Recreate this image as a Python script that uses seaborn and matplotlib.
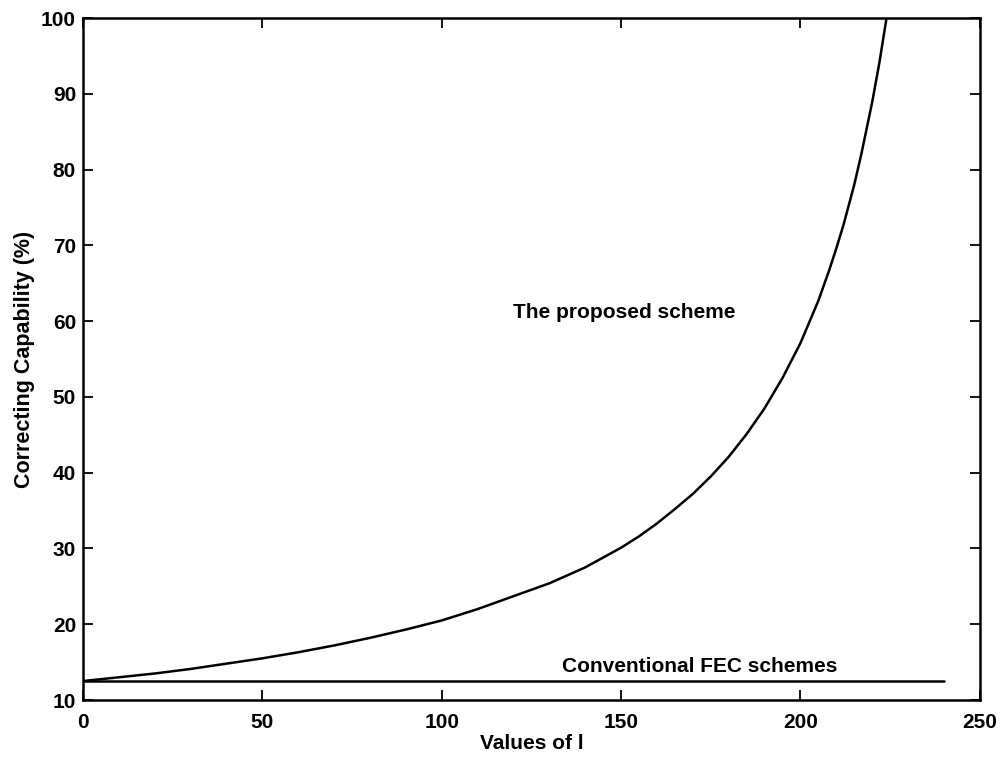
import matplotlib
matplotlib.use("Agg")
import matplotlib.pyplot as plt
import seaborn as sns
import pandas as pd

# Data
l_values = [0, 10, 20, 30, 40, 50, 60, 70, 80, 90, 100, 110, 120, 130, 140,
            150, 155, 160, 165, 170, 175, 180, 185, 190, 195, 200, 205, 208,
            210, 212, 215, 217, 220, 222, 224]
proposed = [12.5, 13.0, 13.5, 14.1, 14.8, 15.5, 16.3, 17.2, 18.2, 19.3, 20.5,
            22.0, 23.7, 25.4, 27.5, 30.1, 31.6, 33.3, 35.2, 37.2, 39.5, 42.1,
            45.1, 48.5, 52.5, 57.1, 62.7, 66.7, 69.6, 72.7, 78.0, 82.1, 88.9,
            94.1, 100.0]
fec_l = [0, 240]
fec_values = [12.5, 12.5]

x_ticks = [0, 50, 100, 150, 200, 250]
y_ticks = [10, 20, 30, 40, 50, 60, 70, 80, 90, 100]

sns.set_style("ticks")
plt.rcParams['font.family'] = ['Liberation Sans', 'DejaVu Sans']
plt.rcParams['text.color'] = 'black'
plt.rcParams['axes.labelcolor'] = 'black'
plt.rcParams['xtick.color'] = 'black'
plt.rcParams['ytick.color'] = 'black'

fig = plt.figure(figsize=(10.07, 7.58), dpi=100)
ax = fig.add_axes([0.0824, 0.0765, 0.8906, 0.8997])

df_prop = pd.DataFrame({"l": l_values, "cap": proposed})
df_fec = pd.DataFrame({"l": fec_l, "cap": fec_values})

sns.lineplot(data=df_prop, x="l", y="cap", ax=ax, color="black", lw=1.8)
sns.lineplot(data=df_fec, x="l", y="cap", ax=ax, color="black", lw=1.8)

ax.set_xlim(0, 250)
ax.set_ylim(10, 100)
ax.set_xticks(x_ticks)
ax.set_yticks(y_ticks)
ax.tick_params(direction="in", top=True, right=True, length=7, width=1.3,
               labelsize=15, colors="black")
ax.tick_params(axis="x", pad=9)
ax.tick_params(axis="y", pad=5)
for lab in ax.get_xticklabels() + ax.get_yticklabels():
    lab.set_fontweight("bold")
for sp in ax.spines.values():
    sp.set_linewidth(1.8)
    sp.set_color("black")

ax.set_xlabel("Values of l", fontsize=15, fontweight="bold", labelpad=2)
ax.set_ylabel("Correcting Capability (%)", fontsize=15.5, fontweight="bold",
              labelpad=4)

ax.text(120, 61.2, "The proposed scheme", fontsize=15, fontweight="bold",
        ha="left", va="center")
ax.text(133.5, 14.4, "Conventional FEC schemes", fontsize=15, fontweight="bold",
        ha="left", va="center")

fig.savefig("out.png", dpi=100)
